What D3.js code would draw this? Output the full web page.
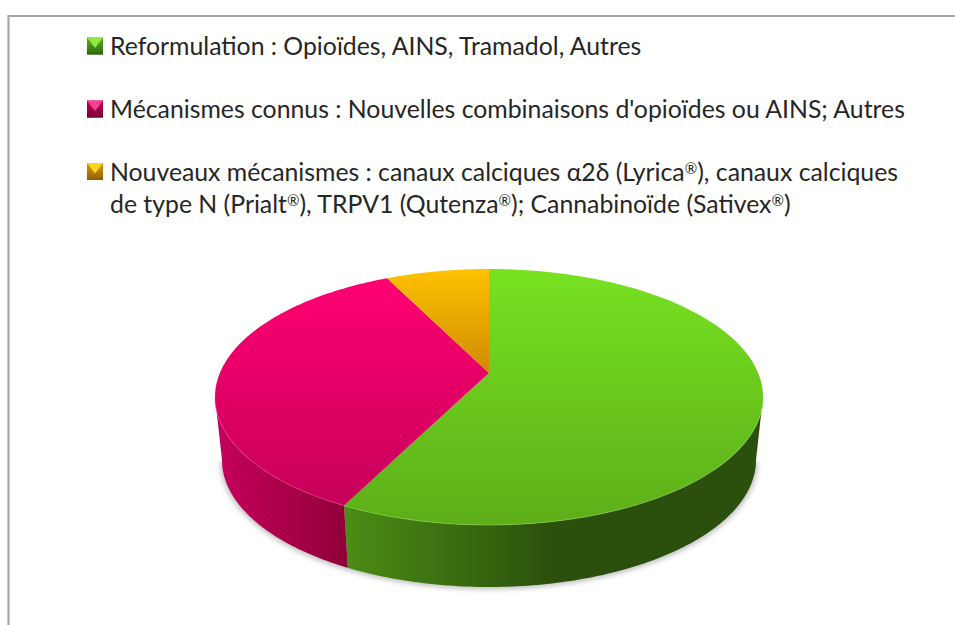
<!DOCTYPE html>
<html>
<head>
<meta charset="utf-8">
<script src="https://cdn.jsdelivr.net/npm/d3@7/dist/d3.min.js"></script>
<style>
  html, body { margin: 0; padding: 0; background: #fff; }
  svg { display: block; }
  text { font-family: Lato, "Open Sans", sans-serif; font-size: 24.8px; fill: #262626; }
</style>
</head>
<body>
<svg id="chart" width="955" height="625"></svg>
<script>
// Values (share of the pie, %)
const categories = ["Reformulation", "Mécanismes connus", "Nouveaux mécanismes"];
const values = [57.4, 35.3, 7.3];
const legendLines = [
  ["Reformulation : Opioïdes, AINS, Tramadol, Autres"],
  ["Mécanismes connus : Nouvelles combinaisons d'opioïdes ou AINS; Autres"],
  ["Nouveaux mécanismes : canaux calciques α2δ (Lyrica®), canaux calciques",
   "de type N (Prialt®), TRPV1 (Qutenza®); Cannabinoïde (Sativex®)"]
];
const topColors = [["#77e221", "#5dae19"], ["#ff0072", "#c6005a"], ["#ffc200", "#d08a00"]];
const wallColors = [
  ["#4c8e14", "#3b6e10", "#2b500c", "#2a4e0c", "#2c500c"],
  ["#c6005c", "#ac004a", "#8f0038"],
  ["#a06a00", "#a06a00"]
];
const markerColors = [
  ["#8fe83c", "#5cb01c", "#2f6a10"],
  ["#ff3f96", "#c4005c", "#7c0036"],
  ["#ffd420", "#dc9a00", "#8f6000"]
];

const svg = d3.select("#chart");
const defs = svg.append("defs");

function gradient(id, colors, horizontal) {
  const g = defs.append("linearGradient").attr("id", id)
     .attr("x1", 0).attr("y1", 0)
     .attr("x2", horizontal ? 1 : 0).attr("y2", horizontal ? 0 : 1);
  colors.forEach((c, i) => g.append("stop")
     .attr("offset", i / (colors.length - 1)).attr("stop-color", c));
}

// Frame
svg.append("path")
   .attr("d", "M8.5,625V16H955")
   .attr("fill", "none")
   .attr("stroke", "#a6a6a6")
   .attr("stroke-width", 2.2);

// Legend
const legendY = [55, 118, 180.5];
const legend = svg.append("g");
legendLines.forEach((lines, i) => {
  const s = 16, h = 17, c = s / 2, m = markerColors[i];
  const g = legend.append("g").attr("transform", `translate(87,${legendY[i] - 17.5})`);
  gradient("marker" + i, [m[1], m[2]], false);
  g.append("rect").attr("width", s).attr("height", h).attr("fill", `url(#marker${i})`);
  g.append("path").attr("d", `M0,0H${s}L${c},${h * 0.62}Z`).attr("fill", m[0]);
  g.append("rect").attr("y", h - 2).attr("width", s).attr("height", 2).attr("fill", m[2]);

  lines.forEach((t, j) => {
    const label = legend.append("text")
       .attr("x", 110)
       .attr("y", legendY[i] + j * 32.5);
    // ® sits small and high in the original
    t.split("®").forEach((part, k) => {
      if (k > 0) {
        label.append("tspan").attr("dy", -7).style("font-size", "15px").text("®");
        label.append("tspan").attr("dy", 7).text(part);
      } else {
        label.append("tspan").text(part);
      }
    });
  });
});

// Pie: a tilted disc, so the centre of the pie sits above the centre of the ellipse
const pie = d3.pie().sort(null).value(d => d);
const arcs = pie(values);

const cx = 489, topCy = 397, topRx = 274, topRy = 128;
const botCy = 460, botRx = 267, botRy = 127;
const tilt = 24 / 128;

function project(angle, r, ellipseCy, rx, ry) {
  const x = r * Math.sin(angle), y = -r * Math.cos(angle);
  const w = 1 - tilt * y;
  return [cx + rx * Math.sqrt(1 - tilt * tilt) * x / w,
          ellipseCy + ry * (y - tilt) / w];
}

function rim(a0, a1, ellipseCy, rx, ry) {
  return d3.range(0, 121).map(i => project(a0 + (a1 - a0) * i / 120, 1, ellipseCy, rx, ry));
}

const line = d3.line();

// Soft shadow under the wall
const blur = defs.append("filter").attr("id", "soft")
   .attr("x", "-10%").attr("y", "-10%").attr("width", "120%").attr("height", "120%");
blur.append("feGaussianBlur").attr("stdDeviation", 2.5);

const visible0 = Math.PI - Math.acos(tilt), visible1 = Math.PI + Math.acos(tilt);
svg.append("path")
   .attr("d", line(rim(visible0, visible1, botCy + 1.5, botRx + 2, botRy + 1)))
   .attr("fill", "#9a9a9a")
   .attr("opacity", 0.6)
   .attr("filter", "url(#soft)");

// Walls, only the part of each slice that faces the viewer
arcs.forEach((d, i) => {
  const a0 = Math.max(d.startAngle, visible0), a1 = Math.min(d.endAngle, visible1);
  if (a0 >= a1) return;
  gradient("wall" + i, wallColors[i], true);
  const pts = rim(a0, a1, topCy, topRx, topRy).concat(rim(a0, a1, botCy, botRx, botRy).reverse());
  svg.append("path")
     .attr("d", line(pts) + "Z")
     .attr("fill", `url(#wall${i})`);
});

// Top faces
arcs.forEach((d, i) => {
  gradient("top" + i, topColors[i], false);
  const pts = [project(0, 0, topCy, topRx, topRy)].concat(rim(d.startAngle, d.endAngle, topCy, topRx, topRy));
  svg.append("path")
     .attr("d", line(pts) + "Z")
     .attr("fill", `url(#top${i})`);
});

// Thin highlight along the front rim
arcs.forEach((d, i) => {
  const a0 = Math.max(d.startAngle, visible0), a1 = Math.min(d.endAngle, visible1);
  if (a0 >= a1) return;
  svg.append("path")
     .attr("d", line(rim(a0, a1, topCy, topRx, topRy)))
     .attr("fill", "none")
     .attr("stroke", i === 0 ? "#8ee04a" : "#ff3f95")
     .attr("stroke-opacity", 0.55)
     .attr("stroke-width", 1);
});
</script>
</body>
</html>
